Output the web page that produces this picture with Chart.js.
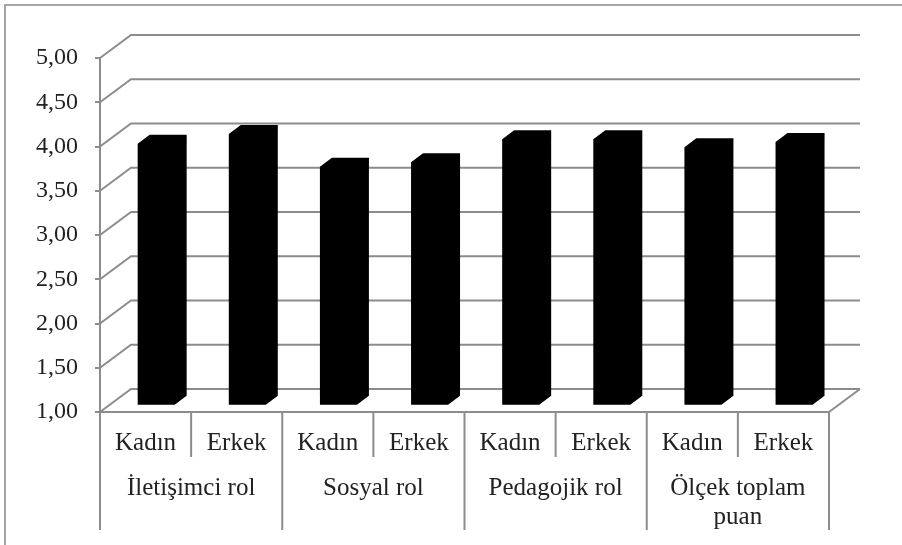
<!DOCTYPE html>
<html>
<head>
<meta charset="utf-8">
<script src="https://cdn.jsdelivr.net/npm/chart.js@4/dist/chart.umd.min.js"></script>
<style>
	html, body { margin: 0; padding: 0; background: #fff; }
	canvas { display: block; }
</style>
</head>
<body>
<canvas id="chart" width="902" height="545"></canvas>
<script>
// sub categories along the axis
const subLabels = ["Kadın", "Erkek", "Kadın", "Erkek", "Kadın", "Erkek", "Kadın", "Erkek"];
// group labels, each spanning two sub categories
const groupLabels = [["İletişimci rol"], ["Sosyal rol"], ["Pedagojik rol"], ["Ölçek toplam", "puan"]];
// mean scores
const scores = [3.96, 4.07, 3.70, 3.75, 4.01, 4.01, 3.92, 3.98];
const yMin = 1;
const yMax = 5;
const yStep = 0.5;

const FONT = "'Liberation Serif', 'Times New Roman', serif";
const TEXT = "#222222";
const GRID = "#8c8c8c";

// 3d look: back wall offset and bar depth
const wall = { dx: 31, dy: -23 };
const barShift = { dx: 10.6, dy: -6.3 };
const barDepth = { dx: 12, dy: -9 };

const frame = {
	id: "frame",
	beforeDraw(chart) {
		const ctx = chart.ctx;
		ctx.save();
		ctx.strokeStyle = "#a6a6a6";
		ctx.lineWidth = 2;
		ctx.strokeRect(5, 5, 1200, 1200);
		ctx.restore();
	}
};

const backWall = {
	id: "backWall",
	beforeDatasetsDraw(chart) {
		const { ctx, chartArea, scales } = chart;
		const y = scales.y;
		ctx.save();
		ctx.strokeStyle = GRID;
		ctx.lineWidth = 2;
		for (let v = yMin; v <= yMax + 1e-9; v += yStep) {
			const py = y.getPixelForValue(v);
			ctx.beginPath();
			ctx.moveTo(chartArea.left, py);
			ctx.lineTo(chartArea.left + wall.dx, py + wall.dy);
			ctx.lineTo(chartArea.right + wall.dx, py + wall.dy);
			ctx.stroke();
		}
		// floor right edge
		const base = y.getPixelForValue(yMin);
		ctx.beginPath();
		ctx.moveTo(chartArea.right, base);
		ctx.lineTo(chartArea.right + wall.dx, base + wall.dy);
		ctx.stroke();
		ctx.restore();
	}
};

const bars3d = {
	id: "bars3d",
	afterDatasetsDraw(chart) {
		const ctx = chart.ctx;
		const meta = chart.getDatasetMeta(0);
		ctx.save();
		ctx.fillStyle = "#000";
		for (const bar of meta.data) {
			const { x, y, base, width } = bar.getProps(["x", "y", "base", "width"], true);
			const L = x - width / 2 + barShift.dx;
			const R = x + width / 2 + barShift.dx;
			const T = y + barShift.dy;
			const B = base + barShift.dy;
			ctx.beginPath();
			ctx.moveTo(L, B);
			ctx.lineTo(L, T);
			ctx.lineTo(L + barDepth.dx, T + barDepth.dy);
			ctx.lineTo(R + barDepth.dx, T + barDepth.dy);
			ctx.lineTo(R + barDepth.dx, B + barDepth.dy);
			ctx.lineTo(R, B);
			ctx.closePath();
			ctx.fill();
		}
		ctx.restore();
	}
};

const groupAxis = {
	id: "groupAxis",
	afterDraw(chart) {
		const { ctx, chartArea, scales } = chart;
		const x = scales.x;
		const step = (chartArea.right - chartArea.left) / subLabels.length;
		const top = chartArea.bottom;
		ctx.save();
		ctx.strokeStyle = GRID;
		ctx.lineWidth = 2;
		for (let i = 0; i <= subLabels.length; i++) {
			const px = i < subLabels.length ? x.getPixelForValue(i) - step / 2 : x.getPixelForValue(i - 1) + step / 2;
			const len = i % 2 === 0 ? 118 : 45;
			ctx.beginPath();
			ctx.moveTo(px, top);
			ctx.lineTo(px, top + len);
			ctx.stroke();
		}
		ctx.fillStyle = TEXT;
		ctx.font = "25px " + FONT;
		ctx.textAlign = "center";
		ctx.textBaseline = "alphabetic";
		groupLabels.forEach((lines, g) => {
			const cx = (x.getPixelForValue(g * 2) + x.getPixelForValue(g * 2 + 1)) / 2;
			lines.forEach((line, k) => {
				ctx.fillText(line, cx, top + 83 + k * 28.5);
			});
		});
		ctx.restore();
	}
};

new Chart(document.getElementById("chart"), {
	type: "bar",
	data: {
		labels: subLabels,
		datasets: [
			{
				data: scores,
				base: yMin,
				backgroundColor: "rgba(0,0,0,0)",
				borderWidth: 0,
				categoryPercentage: 1,
				barPercentage: 0.406
			}
		]
	},
	options: {
		responsive: false,
		animation: false,
		events: [],
		layout: {
			padding: { left: 0, top: 58, right: 73, bottom: 0 }
		},
		plugins: {
			legend: { display: false },
			tooltip: { enabled: false }
		},
		scales: {
			x: {
				grid: { display: false, drawTicks: false },
				border: { display: true, color: GRID, width: 2 },
				ticks: {
					color: TEXT,
					font: { family: FONT, size: 25 },
					padding: 16,
					maxRotation: 0,
					autoSkip: false
				},
				afterFit(scale) {
					scale.height = 133;
				}
			},
			y: {
				min: yMin,
				max: yMax,
				grid: { drawOnChartArea: false, drawTicks: true, tickLength: 5, color: GRID, lineWidth: 2 },
				border: { display: true, color: GRID, width: 2 },
				ticks: {
					stepSize: yStep,
					color: TEXT,
					font: { family: FONT, size: 24 },
					padding: 17,
					callback(value) {
						return value.toFixed(2).replace(".", ",");
					}
				},
				afterFit(scale) {
					scale.width = 100;
				}
			}
		}
	},
	plugins: [frame, backWall, bars3d, groupAxis]
});
</script>
</body>
</html>
